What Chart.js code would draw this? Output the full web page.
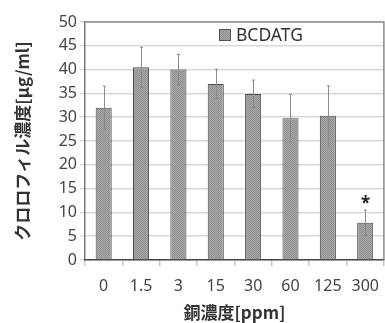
<!DOCTYPE html>
<html>
<head>
<meta charset="utf-8">
<script src="https://cdn.jsdelivr.net/npm/chart.js@4"></script>
<style>
  html, body { margin: 0; padding: 0; background: #fff; overflow: hidden; }
  #wrap { width: 390px; height: 323px; }
</style>
</head>
<body>
<div id="wrap"><canvas id="chlChart"></canvas></div>
<script>
const categories = ['0', '1.5', '3', '15', '30', '60', '125', '300'];
const values = [32, 40.5, 40, 37, 34.9, 29.8, 30.3, 7.8];
const errors = [4.5, 4.2, 3.2, 3.1, 2.9, 5.0, 6.3, 2.7];
const marks = ['', '', '', '', '', '', '', '*'];
const yTicks = [0, 5, 10, 15, 20, 25, 30, 35, 40, 45, 50];

// dotted gray fill like the original bars
function barPattern() {
    const c = document.createElement('canvas');
    c.width = 2; c.height = 2;
    const g = c.getContext('2d');
    g.fillStyle = '#a9a9a9'; g.fillRect(0, 0, 2, 2);
    g.fillStyle = '#8f8f8f'; g.fillRect(0, 0, 1, 1); g.fillRect(1, 1, 1, 1);
    return g.createPattern(c, 'repeat');
}

const extras = {
    id: 'extras',
    afterDatasetsDraw(chart) {
        const ctx = chart.ctx;
        const a = chart.chartArea;
        const x = chart.scales.x, y = chart.scales.y;
        ctx.save();
        // frame of plot area (top/right)
        ctx.strokeStyle = '#8a8a8a';
        ctx.lineWidth = 1.5;
        ctx.beginPath();
        ctx.moveTo(a.left, a.top); ctx.lineTo(a.right, a.top); ctx.lineTo(a.right, a.bottom);
        ctx.stroke();
        // error bars
        ctx.strokeStyle = '#8a8a8a';
        ctx.lineWidth = 1;
        values.forEach((v, i) => {
            const px = Math.round(x.getPixelForValue(i)) + 0.5;
            const top = y.getPixelForValue(v + errors[i]);
            const bot = y.getPixelForValue(v - errors[i]);
            ctx.beginPath();
            ctx.moveTo(px, top); ctx.lineTo(px, bot);
            ctx.moveTo(px - 1.5, top); ctx.lineTo(px + 1.5, top);
            ctx.moveTo(px - 1.5, bot); ctx.lineTo(px + 1.5, bot);
            ctx.stroke();
            if (marks[i]) {
                ctx.fillStyle = '#222';
                ctx.font = 'bold 17px "Noto Sans"';
                ctx.textAlign = 'center';
                ctx.textBaseline = 'bottom';
                ctx.fillText(marks[i], px, top + 3);
            }
        });
        // legend inside the plot
        const lx = 219, ly = 35;
        ctx.fillStyle = barPattern();
        ctx.fillRect(lx, ly - 6, 12, 12);
        ctx.strokeStyle = '#555';
        ctx.strokeRect(lx + 0.5, ly - 5.5, 11, 11);
        ctx.fillStyle = '#333';
        ctx.font = '17.5px "Noto Sans"';
        ctx.textAlign = 'left';
        ctx.textBaseline = 'middle';
        ctx.fillText('BCDATG', lx + 17, ly + 1);
        ctx.restore();
    }
};

new Chart(document.getElementById('chlChart').getContext('2d'), {
    type: 'bar',
    data: {
        labels: categories,
        datasets: [{
            label: 'BCDATG',
            data: values,
            backgroundColor: barPattern(),
            borderColor: '#4a4a4a',
            borderWidth: 1,
            categoryPercentage: 1,
            barPercentage: 0.43
        }]
    },
    options: {
        responsive: true,
        maintainAspectRatio: false,
        animation: false,
        layout: { padding: { top: 22, right: 1, left: 12, bottom: 0 } },
        plugins: { legend: { display: false }, tooltip: { enabled: false } },
        scales: {
            y: {
                min: 0, max: 50,
                afterBuildTicks: s => { s.ticks = yTicks.map(v => ({ value: v })); },
                afterFit: s => { s.width = 73; },
                grid: { color: '#d9d9d9', lineWidth: 1.5, tickLength: 5, tickColor: '#d9d9d9' },
                border: { color: '#7a7a7a', width: 1.5 },
                ticks: { color: '#444', font: { family: 'Noto Sans', size: 16 }, padding: 3 },
                title: {
                    display: true,
                    text: 'クロロフィル濃度[μg/ml]',
                    color: '#333',
                    font: { family: 'Noto Sans CJK JP', size: 17, weight: 'bold' },
                    padding: { top: 0, bottom: 0 }
                }
            },
            x: {
                afterFit: s => { s.height = 63; },
                grid: { drawOnChartArea: false, tickLength: 6, tickColor: '#c8c8c8', lineWidth: 1.5 },
                border: { color: '#4a4a4a', width: 1.5 },
                ticks: { color: '#444', font: { family: 'Noto Sans', size: 16 }, padding: 11, maxRotation: 0, autoSkip: false },
                title: {
                    display: true,
                    text: '銅濃度[ppm]',
                    color: '#333',
                    font: { family: 'Noto Sans CJK JP', size: 17, weight: 'bold' },
                    padding: { top: 0, bottom: 0 }
                }
            }
        }
    },
    plugins: [extras]
});
</script>
</body>
</html>
